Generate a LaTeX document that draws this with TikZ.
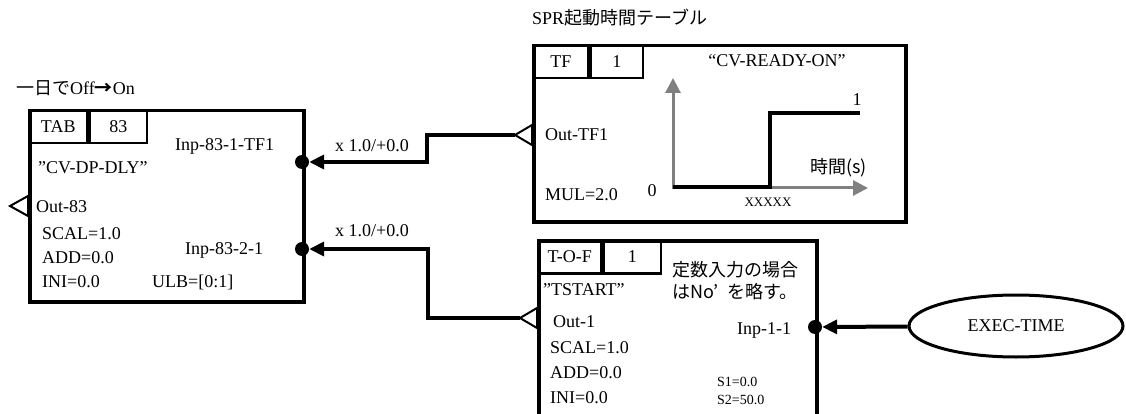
\documentclass[tikz,border=0pt]{standalone}
\usepackage{fontspec}
\setmainfont{Liberation Serif}
\newfontfamily\jp{Noto Sans CJK JP}
\usetikzlibrary{arrows.meta}
\usetikzlibrary{positioning}
\usetikzlibrary{shapes.geometric}

\begin{document}
\begin{tikzpicture}[x=1pt,y=-1pt,
  blk/.style={draw,line width=3.5pt,anchor=north west,inner sep=0pt},
  cell/.style={draw,line width=2.5pt,anchor=north west,minimum height=33pt,inner sep=0pt,font=\fontsize{18}{20}\selectfont},
  txt/.style={anchor=west,inner sep=0pt,font=\fontsize{18}{20}\selectfont},
  small/.style={anchor=west,inner sep=0pt,font=\fontsize{14}{16}\selectfont},
  port/.style={circle,fill,inner sep=0pt,minimum size=14pt},
  outp/.style={draw,line width=2pt},
  ptr/.style={-{Triangle[length=15pt,width=14pt]},line width=4pt},
  axis/.style={-{Triangle[length=15pt,width=15pt]},line width=3pt,color=gray},
  stepline/.style={line width=3.5pt}
]
\useasboundingbox (0,0) rectangle (1126,414);
% TAB block
\node[txt] (tabnote) at (16,88) {{\jp 一日で}Off{\jp\bfseries →}On};
\node[blk,minimum width=274pt,minimum height=191pt] (tab) at (28,109) {};
\node[cell,minimum width=58pt] (tabname) at (tab.north west) {TAB};
\node[cell,minimum width=57pt] (tabno) at (tabname.north east) {83};
\node[txt] (tabin1lbl) at (175,146) {Inp-83-1-TF1};
\node[txt] (tabtag) at (38,168) {”CV-DP-DLY”};
\node[txt] (taboutlbl) at (36,207) {Out-83};
\node[txt] (tabscal) at (42,234) {SCAL=1.0};
\node[txt] (tabadd) at (42,258) {ADD=0.0};
\node[txt] (tabini) at (42,282) {INI=0.0};
\node[txt] (tabin2lbl) at (185,250) {Inp-83-2-1};
\node[txt] (tabulb) at (152,282) {ULB=[0:1]};
\node[port] (tabin1) at (302,162) {};
\node[port] (tabin2) at (302,249) {};
\coordinate (tabout) at (10,206);
\draw[outp] (tabout) -- ++(18,-10) -- ++(0,20) -- cycle;
% TF block
\node[txt] (tftitle) at (532,18) {SPR{\jp 起動時間テーブル}};
\node[blk,minimum width=372pt,minimum height=176pt] (tf) at (532,44) {};
\node[cell,minimum width=55pt] (tfname) at (tf.north west) {TF};
\node[cell,minimum width=52pt] (tfno) at (tfname.north east) {1};
\node[txt,anchor=center] (tftag) at (777,61) {“CV-READY-ON”};
\node[txt] (tfoutlbl) at (545,135) {Out-TF1};
\node[txt] (tfmul) at (545,195) {MUL=2.0};
\node[txt,anchor=center] (tfzero) at (652,191) {0};
\node[txt,anchor=center] (tfone) at (857,100) {1};
\node[txt] (tftime) at (810,168) {\jp 時間(s)};
\node[small,anchor=center,font=\fontsize{13}{15}\selectfont] (tfx) at (768,202) {XXXXX};
\coordinate (org) at (673,188);
\draw[axis] (org) ++(0,1.5) -- (673,78);
\draw[axis] (org) ++(-1.5,0) -- (868,188);
\draw[stepline] (org) ++(0,-1) -- (770,187) -- (770,113) -- (860,113);
\coordinate (tfout) at (515,135);
\draw[outp] (tfout) -- ++(17,-10) -- ++(0,20) -- cycle;
% T-O-F block
\node[blk,minimum width=278pt,minimum height=176pt] (tof) at (537,239) {};
\node[cell,minimum width=63pt] (tofname) at (tof.north west) {T-O-F};
\node[cell,minimum width=57pt] (tofno) at (tofname.north east) {1};
\node[txt] (tofnote1) at (672,270) {\jp 定数入力の場合};
\node[txt] (tofnote2) at (672,292) {\jp はNo’\hspace{0.5em}を略す。};
\node[txt] (toftag) at (543,290) {”TSTART”};
\node[txt] (tofoutlbl) at (553,322) {Out-1};
\node[txt] (tofscal) at (550,348) {SCAL=1.0};
\node[txt] (tofadd) at (550,373) {ADD=0.0};
\node[txt] (tofini) at (550,398) {INI=0.0};
\node[txt] (tofinlbl) at (737,330) {Inp-1-1};
\node[small] (tofs1) at (717,382) {S1=0.0};
\node[small] (tofs2) at (717,400) {S2=50.0};
\node[port] (tofin) at (815,327) {};
\coordinate (tofout) at (520,318);
\draw[outp] (tofout) -- ++(17,-10) -- ++(0,20) -- cycle;
% EXEC-TIME
\node[ellipse,draw,line width=3pt,minimum width=214pt,minimum height=62pt,inner sep=0pt,
  font=\fontsize{18}{20}\selectfont] (exec) at (1016,326) {EXEC-TIME};
% connectors
\draw[ptr] (tfout) -- (427,135) |- (tabin1);
\draw[ptr] (tofout) -- (428,318) |- (tabin2);
\draw[ptr] (exec) -- (tofin);
\node[txt,anchor=center] (gain1) at (372,146) {x 1.0/+0.0};
\node[txt,anchor=center] (gain2) at (372,231) {x 1.0/+0.0};
\end{tikzpicture}
\end{document}
